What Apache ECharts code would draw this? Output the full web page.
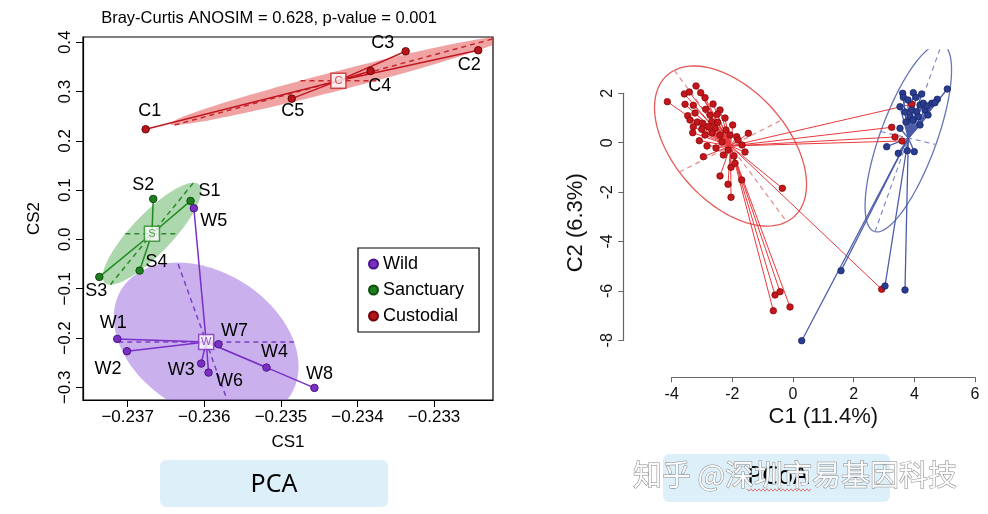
<!DOCTYPE html>
<html>
<head>
<meta charset="utf-8">
<script src="https://cdn.jsdelivr.net/npm/echarts@6/dist/echarts.min.js"></script>
<style>
html,body{margin:0;padding:0;background:#fff}
#main{width:988px;height:514px}
</style>
</head>
<body>
<div id="main"></div>
<script>
// ---- PCA (left panel) ----
var wildNames = ['W1', 'W2', 'W3', 'W4', 'W5', 'W6', 'W7', 'W8'];
var wildX = [-0.237136, -0.237009, -0.236040, -0.235188, -0.236136, -0.235944, -0.235814, -0.234562];
var wildY = [-0.2018, -0.2268, -0.2519, -0.2600, 0.0633, -0.2702, -0.2126, -0.3012];
var sancNames = ['S1', 'S2', 'S3', 'S4'];
var sancX = [-0.236179, -0.236666, -0.237370, -0.236844];
var sancY = [0.0781, 0.0821, -0.0761, -0.0633];
var custNames = ['C1', 'C2', 'C3', 'C4', 'C5'];
var custX = [-0.236765, -0.232424, -0.233371, -0.233828, -0.234858];
var custY = [0.2235, 0.3838, 0.3817, 0.3418, 0.2856];

// group centroids (W, S, C) and ellipse half-axes [ax, ay, bx, by]
var pcaGroups = ['W', 'S', 'C'];
var pcaCentX = [-0.235975, -0.236683, -0.234249];
var pcaCentY = [-0.2079, 0.0116, 0.3221];
var wildEll = [0.001147, 0, -0.000373, 0.1609];
var sancEll = [0.000348, 0, 0.000542, 0.1034];
var custEll = [0.000495, 0, 0.002138, 0.0899];

var pcaXTicks = [-0.237, -0.236, -0.235, -0.234, -0.233];
var pcaYTicks = [-0.3, -0.2, -0.1, 0, 0.1, 0.2, 0.3, 0.4];

// label offsets (px)
var wildLab = [[-4, -16], [-19, 18], [-20, 6], [8, -16], [20, 13], [21, 8], [16, -13], [5, -14]];
var sancLab = [[19, -10], [-10, -14], [-3, 14], [17, -9]];
var custLab = [[4, -18], [-9, 15], [-23, -8], [9, 15], [1, 12]];

// ---- PCoA (right panel) ----
var robX = [-3.199, -3.585, -3.420, -3.044, -2.902, -4.145, -3.561, -3.288, -2.638, -2.879,
  -2.408, -2.497, -3.472, -3.397, -3.156, -2.978, -2.681, -2.483, -3.288, -3.011,
  -2.793, -2.572, -2.210, -1.989, -3.308, -2.902, -2.408, -2.078, -1.857, -1.474,
  -3.090, -2.958, -2.299, -1.946, -2.045, -1.913, -2.408, -1.692, -2.144, -2.045,
  -0.353, -0.594, -0.429, -0.650, -0.100, 2.924, 3.913, 3.254, 3.362, 3.593,
  -2.737, -2.243, -2.671, -2.342, -1.681, -1.583, -2.540, -2.144, -1.814, -2.836, -3.232];
var robY = [2.296, 1.972, 2.053, 2.024, 1.822, 1.660, 1.555, 1.514, 1.567, 1.352,
  1.324, 1.150, 1.093, 0.919, 0.838, 0.785, 0.850, 0.826, 0.648, 0.543,
  0.648, 0.583, 0.514, 0.717, 0.405, 0.312, 0.312, 0.312, 0.243, 0.381,
  0.081, -0.567, -0.498, -0.538, -0.996, -0.834, -1.348, -1.510, -1.684, -2.211,
  -1.846, -6.166, -6.032, -6.802, -6.652, -5.935, 1.555, 0.623, 0.231, 0.069,
  1.117, 0.999, 0.393, 0.028, -0.093, -0.377, -0.215, -0.296, 0.109, -0.134, 1.202];
var bivX = [5.087, 3.616, 3.966, 4.243, 3.636, 4.055, 3.527, 4.187, 4.296, 4.573,
  4.757, 4.681, 3.913, 4.078, 3.857, 4.131, 3.527, 3.089, 3.471, 3.768,
  3.999, 1.582, 3.033, 3.692, 0.286, 3.791, 3.956, 4.352, 4.451, 3.725, 4.187, 3.692, 4.418];
var bivY = [2.174, 2.000, 2.024, 1.972, 1.838, 1.838, 1.457, 1.526, 1.595, 1.595,
  1.757, 1.619, 1.324, 1.255, 1.053, 1.053, 0.583, -0.162, -0.429, -0.324,
  -0.364, -5.182, -5.802, -5.964, -8.016, 1.729, 0.919, 1.324, 1.121, 0.838, 0.717, 1.243, 1.486];
var pcoaGroups = ['robustus', 'bivocatus'];
var pcoaCentX = [-2.061, 3.801];
var pcoaCentY = [-0.134, 0.190];
var robEll = [1.688, 1.053, 1.853, -3.065];
var bivEll = [0.910, -0.263, 1.098, 3.794];

var myChart = echarts.init(document.getElementById('main'));

function fmtMinus(v, d) {
    return (v < -1e-9 ? '\u2212' : '') + Math.abs(v).toFixed(d);
}

function ellipseSeries(cx, cy, e, fill, stroke, dashColor, xi, yi, lw) {
    return {
        type: 'custom', xAxisIndex: xi, yAxisIndex: yi, clip: true, silent: true, z: 1,
        data: [[cx, cy]],
        renderItem: function (params, api) {
            var pts = [];
            for (var i = 0; i <= 120; i++) {
                var t = i / 120 * Math.PI * 2;
                pts.push(api.coord([cx + e[0] * Math.cos(t) + e[2] * Math.sin(t),
                                    cy + e[1] * Math.cos(t) + e[3] * Math.sin(t)]));
            }
            var p = function (sa, sb) {
                return api.coord([cx + sa * e[0] + sb * e[2], cy + sa * e[1] + sb * e[3]]);
            };
            var a1 = p(-1, 0), a2 = p(1, 0), b1 = p(0, -1), b2 = p(0, 1);
            return {
                type: 'group',
                children: [
                    {type: 'polygon', shape: {points: pts},
                     style: {fill: fill || 'none', stroke: stroke || 'none', lineWidth: 1.3}},
                    {type: 'line', shape: {x1: a1[0], y1: a1[1], x2: a2[0], y2: a2[1]},
                     style: {stroke: dashColor, lineWidth: lw, lineDash: [5, 4]}},
                    {type: 'line', shape: {x1: b1[0], y1: b1[1], x2: b2[0], y2: b2[1]},
                     style: {stroke: dashColor, lineWidth: lw, lineDash: [5, 4]}}
                ]
            };
        }
    };
}

function spiderSeries(cx, cy, xs, ys, color, width, xi, yi) {
    return {
        type: 'custom', xAxisIndex: xi, yAxisIndex: yi, clip: true, silent: true, z: 2,
        data: xs.map(function (x, i) { return [x, ys[i]]; }),
        renderItem: function (params, api) {
            var c0 = api.coord([cx, cy]);
            var p = api.coord([api.value(0), api.value(1)]);
            return {type: 'line', shape: {x1: c0[0], y1: c0[1], x2: p[0], y2: p[1]},
                    style: {stroke: color, lineWidth: width}};
        }
    };
}

function pointSeries(name, names, xs, ys, offs, color, border) {
    return {
        type: 'scatter', name: name, xAxisIndex: 0, yAxisIndex: 0, z: 3,
        symbolSize: 7.5,
        itemStyle: {color: color, borderColor: border, borderWidth: 1, opacity: 1},
        label: {show: true, position: 'inside', fontSize: 18, color: '#000',
                formatter: function (p) { return p.name; }},
        data: xs.map(function (x, i) {
            return {name: names[i], value: [x, ys[i]], label: {offset: offs[i]}};
        })
    };
}

function centroidBox(i, color) {
    return {
        type: 'scatter', xAxisIndex: 0, yAxisIndex: 0, z: 4, silent: true,
        symbol: 'rect', symbolSize: 15,
        itemStyle: {color: '#fff', borderColor: color, borderWidth: 1.5},
        label: {show: true, position: 'inside', fontSize: 11, color: color,
                formatter: pcaGroups[i]},
        data: [[pcaCentX[i], pcaCentY[i]]]
    };
}

function pcoaPoints(xs, ys, color, border) {
    return {
        type: 'scatter', xAxisIndex: 2, yAxisIndex: 2, z: 3, silent: true,
        symbolSize: 6.5,
        itemStyle: {color: color, borderColor: border, borderWidth: 0.8, opacity: 1},
        data: xs.map(function (x, i) { return [x, ys[i]]; })
    };
}

function pcoaLabel(i, color) {
    return {
        type: 'scatter', xAxisIndex: 2, yAxisIndex: 2, z: 5, silent: true,
        symbolSize: 1, itemStyle: {opacity: 0},
        label: {show: true, position: 'inside', formatter: pcoaGroups[i], fontSize: 11,
                color: color, backgroundColor: '#fff', borderColor: color, borderWidth: 1,
                padding: [1, 3, 1, 3]},
        data: [[pcoaCentX[i], pcoaCentY[i]]]
    };
}

var zigzag = [];
for (var k = 0; k <= 32; k++) {
    zigzag.push([747 + k * 2, 490 + (k % 2 ? 1.2 : -1.2)]);
}

myChart.setOption({
    animation: false,
    textStyle: {fontFamily: 'Liberation Sans'},
    grid: [
        {left: 83, top: 37, width: 410, height: 363, show: true, borderColor: '#000',
         borderWidth: 1.2, backgroundColor: 'transparent', outerBoundsMode: 'none'},
        {left: 671.7, top: 93.3, width: 303.3, height: 247, outerBoundsMode: 'none'},
        {left: 623.3, top: 49.3, width: 361.7, height: 328, outerBoundsMode: 'none'}
    ],
    xAxis: [
        {gridIndex: 0, type: 'value', min: -0.237583, max: -0.232231,
         axisLine: {show: true, onZero: false, lineStyle: {color: '#000', width: 1.2}},
         axisTick: {show: true, length: 7, customValues: pcaXTicks, lineStyle: {color: '#000'}},
         axisLabel: {customValues: pcaXTicks, fontSize: 17, color: '#000', margin: 9,
                     formatter: function (v) { return fmtMinus(v, 3); }},
         splitLine: {show: false},
         name: 'CS1', nameLocation: 'middle', nameGap: 34,
         nameTextStyle: {fontSize: 17, color: '#000'}},
        {gridIndex: 1, type: 'value', min: -4, max: 6, interval: 2, offset: 37,
         axisLine: {show: true, onZero: false, lineStyle: {color: '#666', width: 1.2}},
         axisTick: {show: true, length: 5, lineStyle: {color: '#666'}},
         axisLabel: {fontSize: 16, color: '#111', margin: 9},
         splitLine: {show: false},
         name: 'C1 (11.4%)', nameLocation: 'middle', nameGap: 29,
         nameTextStyle: {fontSize: 22, color: '#111'}},
        {gridIndex: 2, type: 'value', min: -5.597, max: 6.33, show: false, splitLine: {show: false}}
    ],
    yAxis: [
        {gridIndex: 0, type: 'value', min: -0.3258, max: 0.4107,
         axisLine: {show: true, onZero: false, lineStyle: {color: '#000', width: 1.2}},
         axisTick: {show: true, length: 7, customValues: pcaYTicks, lineStyle: {color: '#000'}},
         axisLabel: {customValues: pcaYTicks, fontSize: 17, color: '#000', margin: 9, rotate: 90,
                     formatter: function (v) { return fmtMinus(v, 1); }},
         splitLine: {show: false},
         name: 'CS2', nameLocation: 'middle', nameGap: 40,
         nameTextStyle: {fontSize: 17, color: '#000'}},
        {gridIndex: 1, type: 'value', min: -8, max: 2, interval: 2, offset: 48.4,
         axisLine: {show: true, onZero: false, lineStyle: {color: '#666', width: 1.2}},
         axisTick: {show: true, length: 5, lineStyle: {color: '#666'}},
         axisLabel: {fontSize: 16, color: '#111', margin: 8, rotate: 90},
         splitLine: {show: false},
         name: 'C2 (6.3%)', nameLocation: 'middle', nameGap: 36,
         nameTextStyle: {fontSize: 22, color: '#111', padding: [0, 0, 0, -12]}},
        {gridIndex: 2, type: 'value', min: -9.498, max: 3.781, show: false, splitLine: {show: false}}
    ],
    legend: {
        data: ['Wild', 'Sanctuary', 'Custodial'], orient: 'vertical', left: 358, top: 248,
        borderColor: '#000', borderWidth: 1.2, padding: [7, 15, 7, 10], itemGap: 8,
        itemWidth: 9, itemHeight: 9, icon: 'circle', selectedMode: false,
        textStyle: {fontSize: 18, color: '#000'}
    },
    series: [
        ellipseSeries(pcaCentX[0], pcaCentY[0], wildEll, 'rgba(150,100,222,0.5)', null, '#7d3fc8', 0, 0, 1.5),
        ellipseSeries(pcaCentX[1], pcaCentY[1], sancEll, 'rgba(60,160,60,0.42)', null, '#2a8a2a', 0, 0, 1.5),
        ellipseSeries(pcaCentX[2], pcaCentY[2], custEll, 'rgba(222,50,50,0.45)', null, '#c8282d', 0, 0, 1.5),
        spiderSeries(pcaCentX[0], pcaCentY[0], wildX, wildY, '#7a30c8', 1.5, 0, 0),
        spiderSeries(pcaCentX[1], pcaCentY[1], sancX, sancY, '#1f8a1f', 1.5, 0, 0),
        spiderSeries(pcaCentX[2], pcaCentY[2], custX, custY, '#c01820', 1.5, 0, 0),
        pointSeries('Wild', wildNames, wildX, wildY, wildLab, '#7a30c0', '#4a1488'),
        pointSeries('Sanctuary', sancNames, sancX, sancY, sancLab, '#1e7d1e', '#0e4e0e'),
        pointSeries('Custodial', custNames, custX, custY, custLab, '#b8141b', '#6e0808'),
        centroidBox(0, '#7a30c0'),
        centroidBox(1, '#2a8a2a'),
        centroidBox(2, '#c0282d'),

        ellipseSeries(pcoaCentX[0], pcoaCentY[0], robEll, null, '#e45a5a', '#e48a8a', 2, 2, 1.2),
        ellipseSeries(pcoaCentX[1], pcoaCentY[1], bivEll, null, '#6676b8', '#7f8cc4', 2, 2, 1.2),
        spiderSeries(pcoaCentX[0], pcoaCentY[0], robX, robY, '#e8393c', 1, 2, 2),
        spiderSeries(pcoaCentX[1], pcoaCentY[1], bivX, bivY, '#4c5ca8', 1.3, 2, 2),
        pcoaPoints(robX, robY, '#c4161c', '#8b0a0a'),
        pcoaPoints(bivX, bivY, '#2b3d8f', '#17266a'),
        pcoaLabel(0, '#e03a3a'),
        pcoaLabel(1, '#4a5aaa')
    ],
    graphic: [
        {type: 'text', x: 269, y: 18, z: 10,
         style: {text: 'Bray-Curtis ANOSIM = 0.628, p-value = 0.001', fontSize: 16.5,
                 fontFamily: 'Liberation Sans', fill: '#000', align: 'center', verticalAlign: 'middle'}},
        {type: 'rect', z: 10, shape: {x: 160, y: 460, width: 228, height: 47, r: 6},
         style: {fill: '#ddf0fa'}},
        {type: 'text', x: 274, y: 485, z: 11,
         style: {text: 'PCA', fontSize: 25, fontFamily: 'Noto Sans', fill: '#000',
                 align: 'center', verticalAlign: 'middle'}},
        {type: 'rect', z: 10, shape: {x: 663, y: 454, width: 227, height: 48, r: 6},
         style: {fill: '#ddf0fa'}},
        {type: 'text', x: 778, y: 477, z: 11,
         style: {text: 'PCoA', fontSize: 25, fontFamily: 'Noto Sans', fill: '#000',
                 align: 'center', verticalAlign: 'middle'}},
        {type: 'polyline', z: 11, shape: {points: zigzag},
         style: {stroke: '#e05a5a', lineWidth: 0.8, fill: 'none'}},
        {type: 'text', x: 633, y: 475, z: 20,
         style: {text: '知乎 @深圳市易基因科技', fontSize: 29, fontFamily: 'Noto Sans CJK SC',
                 fill: 'rgba(255,255,255,0.9)', stroke: '#8a8a8a', lineWidth: 1,
                 align: 'left', verticalAlign: 'middle'}}
    ]
});

window.addEventListener('resize', function () {
    myChart.resize();
});
</script>
</body>
</html>
